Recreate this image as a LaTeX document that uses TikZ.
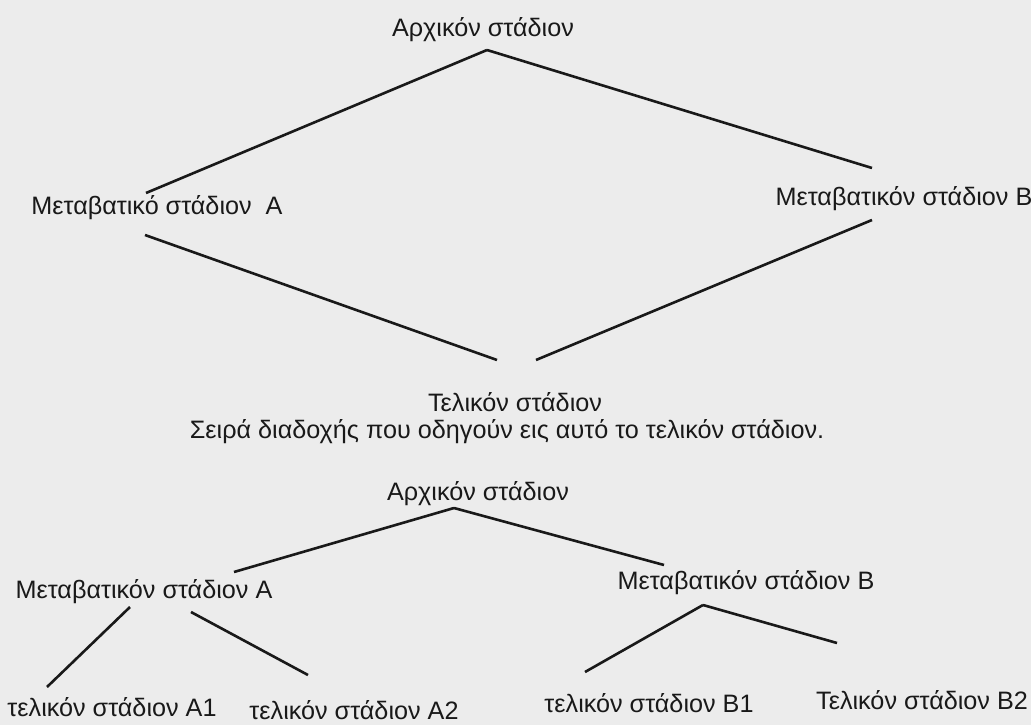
\documentclass[tikz,border=0pt]{standalone}
\usepackage{fontspec}
\setmainfont{Liberation Sans}
\definecolor{paper}{RGB}{236,236,236}
\definecolor{ink}{RGB}{25,25,25}
\begin{document}
\begin{tikzpicture}[x=1pt, y=-1pt,
    stage/.style = {text=ink, inner sep=0pt, font=\fontsize{25.2}{29}\selectfont},
    link/.style = {draw=ink, line width=2.6pt}]
\fill[paper] (0,0) rectangle (1031,725);
\useasboundingbox (0,0) rectangle (1031,725);
% upper diagram
\node[stage] (top1) at (483,30) {Αρχικόν στάδιον};
\node[stage] (midA1) at (157,208) {Μεταβατικό στάδιον\ \ Α};
\node[stage] (midB1) at (904,199) {Μεταβατικόν στάδιον Β};
\node[stage] (fin1) at (515,402) {Τελικόν στάδιον};
\node[stage] (note) at (507,432) {Σειρά διαδοχής που οδηγούν εις αυτό το τελικόν στάδιον.};
\coordinate (top1-b) at (487,50);
\coordinate (midA1-t) at (146,193);
\coordinate (midA1-b) at (145,235);
\coordinate (midB1-t) at (872,168);
\coordinate (midB1-b) at (872,220);
\coordinate (fin1-l) at (497,360);
\coordinate (fin1-r) at (536,360);
\draw[link] (top1-b) -- (midA1-t);
\draw[link] (top1-b) -- (midB1-t);
\draw[link] (midA1-b) -- (fin1-l);
\draw[link] (midB1-b) -- (fin1-r);
% lower diagram
\node[stage] (top2) at (478,494) {Αρχικόν στάδιον};
\node[stage] (midA2) at (144,592) {Μεταβατικόν στάδιον Α};
\node[stage] (midB2) at (746,583) {Μεταβατικόν στάδιον Β};
\node[stage] (leafA1) at (112,707) {τελικόν στάδιον Α1};
\node[stage] (leafA2) at (354,710) {τελικόν στάδιον Α2};
\node[stage] (leafB1) at (649,703) {τελικόν στάδιον Β1};
\node[stage] (leafB2) at (922,700) {Τελικόν στάδιον Β2};
\coordinate (top2-b) at (454,508);
\coordinate (midA2-t) at (234,572);
\coordinate (midB2-t) at (664,565);
\coordinate (midA2-l) at (130,607);
\coordinate (midA2-r) at (191,612);
\coordinate (midB2-b) at (703,605);
\coordinate (leafA1-t) at (47,687);
\coordinate (leafA2-t) at (308,675);
\coordinate (leafB1-t) at (585,672);
\coordinate (leafB2-t) at (837,643);
\draw[link] (top2-b) -- (midA2-t);
\draw[link] (top2-b) -- (midB2-t);
\draw[link] (midA2-l) -- (leafA1-t);
\draw[link] (midA2-r) -- (leafA2-t);
\draw[link] (midB2-b) -- (leafB1-t);
\draw[link] (midB2-b) -- (leafB2-t);
\end{tikzpicture}
\end{document}
